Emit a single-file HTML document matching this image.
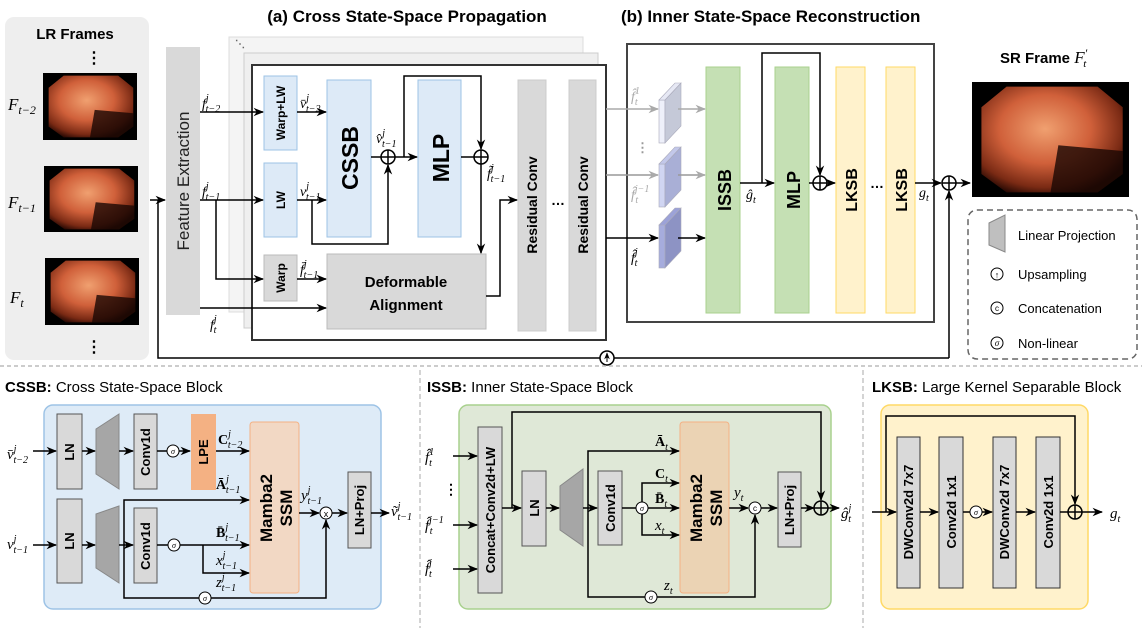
<!DOCTYPE html>
<html><head><meta charset="utf-8">
<style>
html,body{margin:0;padding:0;background:#fff;}
svg{display:block;}
.b{font-family:"Liberation Sans",sans-serif;font-weight:bold;}
.n{font-family:"Liberation Sans",sans-serif;}
.m{font-family:"Liberation Serif",serif;font-style:italic;}
</style></head><body>
<svg width="1142" height="628" viewBox="0 0 1142 628" xmlns="http://www.w3.org/2000/svg">
<defs>
<marker id="a" viewBox="0 0 10 10" refX="9" refY="5" markerWidth="7" markerHeight="7" orient="auto-start-reverse"><path d="M0,1 L10,5 L0,9 L3,5z" fill="#000"/></marker>
<marker id="g" viewBox="0 0 10 10" refX="9" refY="5" markerWidth="7" markerHeight="7" orient="auto-start-reverse"><path d="M0,1 L10,5 L0,9 L3,5z" fill="#aaa"/></marker>
<radialGradient id="en" cx="45%" cy="40%" r="65%"><stop offset="0" stop-color="#f0a070"/><stop offset="0.5" stop-color="#d0603a"/><stop offset="0.85" stop-color="#7a2a14"/><stop offset="1" stop-color="#2a0a04"/></radialGradient>
<g id="endo"><rect x="0" y="0" width="100" height="100" fill="#000"/><polygon points="22,4 80,4 96,22 96,80 80,96 22,96 6,80 6,22" fill="url(#en)"/><path d="M55,55 L96,60 L96,80 L80,96 L50,96z" fill="#1a0804" opacity="0.8"/></g>
</defs>

<!-- LR frames panel -->
<rect x="5" y="17" width="144" height="343" rx="9" fill="#eeeeee"/>
<text x="75" y="39" class="b" font-size="15" text-anchor="middle">LR Frames</text>
<text x="94" y="63" class="b" font-size="16" text-anchor="middle">⋮</text>
<text x="94" y="352" class="b" font-size="16" text-anchor="middle">⋮</text>
<use href="#endo" transform="translate(43,73) scale(0.94,0.67)"/>
<use href="#endo" transform="translate(44,166) scale(0.94,0.66)"/>
<use href="#endo" transform="translate(45,258) scale(0.94,0.67)"/>
<text x="8" y="110" class="m" font-size="17">F<tspan font-size="12" dy="4">t−2</tspan></text>
<text x="8" y="208" class="m" font-size="17">F<tspan font-size="12" dy="4">t−1</tspan></text>
<text x="10" y="303" class="m" font-size="17">F<tspan font-size="12" dy="4">t</tspan></text>

<!-- Titles -->
<text x="407" y="22" class="b" font-size="17" text-anchor="middle">(a) Cross State-Space Propagation</text>
<text x="621" y="22" class="b" font-size="17">(b) Inner State-Space Reconstruction</text>

<!-- Feature extraction -->
<rect x="166" y="47" width="34" height="268" fill="#d9d9d9"/>
<text transform="translate(189,181) rotate(-90)" class="n" font-size="17" text-anchor="middle" fill="#222">Feature Extraction</text>

<!-- stacks -->
<rect x="229" y="37" width="354" height="275" fill="#f4f4f4" stroke="#ddd"/>
<rect x="244" y="53" width="354" height="275" fill="#efefef" stroke="#ccc"/>
<rect x="252" y="65" width="354" height="275" fill="#fff" stroke="#333" stroke-width="2"/>
<text x="235" y="47" class="b" font-size="10" fill="#666">⋱</text>

<rect x="264" y="76" width="33" height="74" fill="#ddeaf7" stroke="#9dc3e6"/>
<text transform="translate(285,113) rotate(-90)" class="b" font-size="12" text-anchor="middle">Warp+LW</text>
<rect x="264" y="163" width="33" height="74" fill="#ddeaf7" stroke="#9dc3e6"/>
<text transform="translate(285,200) rotate(-90)" class="b" font-size="12" text-anchor="middle">LW</text>
<rect x="327" y="80" width="44" height="157" fill="#ddeaf7" stroke="#9dc3e6"/>
<text transform="translate(358,158) rotate(-90)" class="b" font-size="23" text-anchor="middle">CSSB</text>
<rect x="418" y="80" width="43" height="157" fill="#ddeaf7" stroke="#9dc3e6"/>
<text transform="translate(449,158) rotate(-90)" class="b" font-size="23" text-anchor="middle">MLP</text>
<rect x="264" y="255" width="33" height="46" fill="#d9d9d9" stroke="#bbb"/>
<text transform="translate(285,278) rotate(-90)" class="b" font-size="12" text-anchor="middle">Warp</text>
<rect x="327" y="254" width="159" height="75" fill="#d9d9d9" stroke="#bbb"/>
<text x="406" y="287" class="b" font-size="15" text-anchor="middle">Deformable</text>
<text x="406" y="310" class="b" font-size="15" text-anchor="middle">Alignment</text>
<rect x="518" y="80" width="28" height="251" fill="#d9d9d9" stroke="#ccc"/>
<text transform="translate(537,205) rotate(-90)" class="b" font-size="14" text-anchor="middle">Residual Conv</text>
<rect x="569" y="80" width="27" height="251" fill="#d9d9d9" stroke="#ccc"/>
<text transform="translate(588,205) rotate(-90)" class="b" font-size="14" text-anchor="middle">Residual Conv</text>
<text x="558" y="205" class="b" font-size="14" text-anchor="middle">…</text>

<g stroke="#000" stroke-width="1.5" fill="none">
<line x1="200" y1="112" x2="263" y2="112" marker-end="url(#a)"/>
<line x1="297" y1="112" x2="326" y2="112" marker-end="url(#a)"/>
<line x1="200" y1="200" x2="263" y2="200" marker-end="url(#a)"/>
<line x1="297" y1="200" x2="326" y2="200" marker-end="url(#a)"/>
<polyline points="312,200 312,244 388,244 388,165" marker-end="url(#a)"/>
<polyline points="216,200 216,279 263,279" marker-end="url(#a)"/>
<line x1="297" y1="279" x2="326" y2="279" marker-end="url(#a)"/>
<line x1="200" y1="308" x2="326" y2="308" marker-end="url(#a)"/>
<line x1="371" y1="157" x2="381" y2="157"/>
<line x1="395" y1="157" x2="417" y2="157" marker-end="url(#a)"/>
<polyline points="404,157 404,76 481,76 481,149" marker-end="url(#a)"/>
<line x1="461" y1="157" x2="474" y2="157"/>
<line x1="481" y1="164" x2="481" y2="253" marker-end="url(#a)"/>
<polyline points="486,296 500,296 500,200 517,200" marker-end="url(#a)"/>
<line x1="150" y1="200" x2="165" y2="200" marker-end="url(#a)"/>
<polyline points="158,200 158,358 600,358"/>
<line x1="614" y1="358" x2="949" y2="358"/>
<line x1="949" y1="358" x2="949" y2="191" marker-end="url(#a)"/>
<circle cx="388" cy="157" r="7"/><line x1="381" y1="157" x2="395" y2="157"/><line x1="388" y1="150" x2="388" y2="164"/>
<circle cx="481" cy="157" r="7"/><line x1="474" y1="157" x2="488" y2="157"/><line x1="481" y1="150" x2="481" y2="164"/>
<circle cx="607" cy="358" r="7" fill="#fff"/><line x1="607" y1="362" x2="607" y2="353" stroke-width="1" marker-end="url(#a)"/>
</g>
<g class="m" font-size="14">
<text x="202" y="108">f<tspan font-size="10" dy="-7">j</tspan><tspan font-size="10" dx="-3" dy="11">t−2</tspan></text>
<text x="202" y="196">f<tspan font-size="10" dy="-7">j</tspan><tspan font-size="10" dx="-3" dy="11">t−1</tspan></text>
<text x="210" y="329">f<tspan font-size="10" dy="-7">j</tspan><tspan font-size="10" dx="-3" dy="11">t</tspan></text>
<text x="300" y="108">v̄<tspan font-size="10" dy="-7">j</tspan><tspan font-size="10" dx="-3" dy="11">t−2</tspan></text>
<text x="300" y="196">v<tspan font-size="10" dy="-7">j</tspan><tspan font-size="10" dx="-3" dy="11">t−1</tspan></text>
<text x="300" y="274">f̄<tspan font-size="10" dy="-7">j</tspan><tspan font-size="10" dx="-3" dy="11">t−1</tspan></text>
<text x="376" y="143">v̂<tspan font-size="10" dy="-7">j</tspan><tspan font-size="10" dx="-3" dy="11">t−1</tspan></text>
<text x="487" y="178">f̃<tspan font-size="10" dy="-7">j</tspan><tspan font-size="10" dx="-3" dy="11">t−1</tspan></text>
</g>

<!-- section b -->
<rect x="627" y="44" width="307" height="278" fill="#fff" stroke="#444" stroke-width="2"/>
<line x1="606" y1="109" x2="658" y2="109" stroke="#aaa" stroke-width="1.5" marker-end="url(#g)"/>
<line x1="606" y1="175" x2="658" y2="175" stroke="#999" stroke-width="1.5" marker-end="url(#g)"/>
<line x1="606" y1="238" x2="658" y2="238" stroke="#000" stroke-width="1.5" marker-end="url(#a)"/>
<g stroke="#aab" stroke-width="0.6">
<rect x="659" y="100" width="6" height="43" fill="#eef0fa"/><polygon points="665,100 681,83 681,126 665,143" fill="#c5c9d8"/><polygon points="659,100 675,83 681,83 665,100" fill="#e6e8f4"/>
<rect x="659" y="164" width="6" height="43" fill="#d0d5f2"/><polygon points="665,164 681,147 681,190 665,207" fill="#a9afd6"/><polygon points="659,164 675,147 681,147 665,164" fill="#c3c8ea"/>
<rect x="659" y="225" width="6" height="43" fill="#a6acdd"/><polygon points="665,225 681,208 681,251 665,268" fill="#8d93c4"/><polygon points="659,225 675,208 681,208 665,225" fill="#9ca2d8"/>
</g>
<line x1="678" y1="109" x2="705" y2="109" stroke="#aaa" stroke-width="1.5" marker-end="url(#g)"/>
<line x1="678" y1="175" x2="705" y2="175" stroke="#999" stroke-width="1.5" marker-end="url(#g)"/>
<line x1="678" y1="238" x2="705" y2="238" stroke="#000" stroke-width="1.5" marker-end="url(#a)"/>
<g class="m" font-size="14">
<text x="631" y="101" fill="#aaa">f̂<tspan font-size="10" dy="-7">1</tspan><tspan font-size="10" dx="-5" dy="11">t</tspan></text>
<text x="636" y="152" class="b" font-style="normal" font-size="13" fill="#999">⋮</text>
<text x="631" y="199" fill="#aaa">f̂<tspan font-size="10" dy="-7">j−1</tspan><tspan font-size="10" dx="-14" dy="11">t</tspan></text>
<text x="631" y="262">f̂<tspan font-size="10" dy="-7">j</tspan><tspan font-size="10" dx="-3" dy="11">t</tspan></text>
</g>
<rect x="706" y="67" width="34" height="246" fill="#c5e0b4" stroke="#a9d18e"/>
<text transform="translate(731,190) rotate(-90)" class="b" font-size="18" text-anchor="middle">ISSB</text>
<rect x="775" y="67" width="34" height="246" fill="#c5e0b4" stroke="#a9d18e"/>
<text transform="translate(800,190) rotate(-90)" class="b" font-size="18" text-anchor="middle">MLP</text>
<rect x="836" y="67" width="29" height="246" fill="#fff2cc" stroke="#ffd966"/>
<text transform="translate(857,190) rotate(-90)" class="b" font-size="16" text-anchor="middle">LKSB</text>
<rect x="886" y="67" width="29" height="246" fill="#fff2cc" stroke="#ffd966"/>
<text transform="translate(907,190) rotate(-90)" class="b" font-size="16" text-anchor="middle">LKSB</text>
<text x="877" y="188" class="b" font-size="14" text-anchor="middle">…</text>
<g stroke="#000" stroke-width="1.5" fill="none">
<line x1="740" y1="183" x2="774" y2="183" marker-end="url(#a)"/>
<polyline points="762,183 762,53 820,53 820,175" marker-end="url(#a)"/>
<line x1="809" y1="183" x2="813" y2="183"/>
<line x1="827" y1="183" x2="835" y2="183" marker-end="url(#a)"/>
<line x1="915" y1="183" x2="941" y2="183" marker-end="url(#a)"/>
<line x1="956" y1="183" x2="970" y2="183" marker-end="url(#a)"/>
<circle cx="820" cy="183" r="7"/><line x1="813" y1="183" x2="827" y2="183"/><line x1="820" y1="176" x2="820" y2="190"/>
<circle cx="949" cy="183" r="7"/><line x1="942" y1="183" x2="956" y2="183"/><line x1="949" y1="176" x2="949" y2="190"/>
</g>
<text x="746" y="199" class="m" font-size="14">ĝ<tspan font-size="10" dy="4">t</tspan></text>
<text x="919" y="197" class="m" font-size="14">g<tspan font-size="10" dy="4">t</tspan></text>

<text x="1000" y="63" class="b" font-size="15">SR Frame <tspan class="m" font-weight="normal" font-size="17">F</tspan><tspan class="m" font-weight="normal" font-size="12" dy="-6">′</tspan><tspan class="m" font-weight="normal" font-size="11" dx="-4" dy="10">t</tspan></text>
<use href="#endo" transform="translate(972,82) scale(1.57,1.15)"/>

<!-- legend -->
<rect x="968" y="210" width="169" height="149" rx="9" fill="#fff" stroke="#666" stroke-width="1.5" stroke-dasharray="6,4"/>
<polygon points="989,223 1005,215 1005,252 989,245" fill="#bfbfbf" stroke="#888"/>
<text x="1018" y="240" class="n" font-size="13">Linear Projection</text>
<circle cx="997" cy="274" r="6" fill="#fff" stroke="#000"/><text x="997" y="278" class="n" font-size="9" text-anchor="middle">↑</text>
<text x="1018" y="279" class="n" font-size="13">Upsampling</text>
<circle cx="997" cy="308" r="6" fill="#fff" stroke="#000"/><text x="997" y="311" class="n" font-size="8" text-anchor="middle">c</text>
<text x="1018" y="313" class="n" font-size="13">Concatenation</text>
<circle cx="997" cy="343" r="6" fill="#fff" stroke="#000"/><text x="997" y="346" class="m" font-size="9" text-anchor="middle">σ</text>
<text x="1018" y="348" class="n" font-size="13">Non-linear</text>

<!-- separators -->
<line x1="0" y1="366" x2="1142" y2="366" stroke="#bbb" stroke-width="1.5" stroke-dasharray="4,3"/>
<line x1="420" y1="370" x2="420" y2="628" stroke="#aaa" stroke-width="1" stroke-dasharray="5,3"/>
<line x1="863" y1="370" x2="863" y2="628" stroke="#aaa" stroke-width="1" stroke-dasharray="5,3"/>

<!-- CSSB -->
<text x="5" y="392" class="n" font-size="15"><tspan font-weight="bold">CSSB:</tspan> Cross State-Space Block</text>
<rect x="44" y="405" width="337" height="204" rx="9" fill="#deebf7" stroke="#9dc3e6" stroke-width="1.5"/>
<g fill="#d9d9d9" stroke="#555" stroke-width="1">
<rect x="57" y="414" width="25" height="75"/><rect x="57" y="499" width="25" height="84"/>
<rect x="134" y="414" width="23" height="75"/><rect x="134" y="508" width="23" height="75"/>
<rect x="348" y="472" width="23" height="76"/>
</g>
<polygon points="96,429 119,414 119,489 96,474" fill="#a6a6a6" stroke="#888"/>
<polygon points="96,514 119,506 119,583 96,568" fill="#a6a6a6" stroke="#888"/>
<rect x="191" y="414" width="25" height="76" fill="#f4b183"/>
<rect x="250" y="422" width="49" height="171" rx="3" fill="#f2d8c4" stroke="#f4b183"/>
<g class="b" font-size="13" text-anchor="middle">
<text transform="translate(74,452) rotate(-90)">LN</text>
<text transform="translate(74,541) rotate(-90)">LN</text>
<text transform="translate(150,452) rotate(-90)">Conv1d</text>
<text transform="translate(150,546) rotate(-90)">Conv1d</text>
<text transform="translate(208,452) rotate(-90)">LPE</text>
<text transform="translate(364,510) rotate(-90)">LN+Proj</text>
<text transform="translate(272,508) rotate(-90)" font-size="17">Mamba2</text>
<text transform="translate(292,508) rotate(-90)" font-size="17">SSM</text>
</g>
<g stroke="#000" stroke-width="1.5" fill="none">
<line x1="33" y1="451" x2="56" y2="451" marker-end="url(#a)"/>
<line x1="82" y1="451" x2="95" y2="451" marker-end="url(#a)"/>
<line x1="119" y1="451" x2="133" y2="451" marker-end="url(#a)"/>
<line x1="157" y1="451" x2="167" y2="451"/>
<line x1="179" y1="451" x2="190" y2="451" marker-end="url(#a)"/>
<line x1="216" y1="451" x2="249" y2="451" marker-end="url(#a)"/>
<line x1="33" y1="545" x2="56" y2="545" marker-end="url(#a)"/>
<line x1="82" y1="545" x2="95" y2="545" marker-end="url(#a)"/>
<line x1="119" y1="545" x2="133" y2="545" marker-end="url(#a)"/>
<polyline points="124,545 124,500 249,500" marker-end="url(#a)"/>
<polyline points="124,545 124,598 326,598 326,520" marker-end="url(#a)"/>
<line x1="157" y1="545" x2="168" y2="545"/>
<line x1="180" y1="545" x2="249" y2="545" marker-end="url(#a)"/>
<polyline points="203,545 203,573 249,573" marker-end="url(#a)"/>
<line x1="299" y1="513" x2="319" y2="513" marker-end="url(#a)"/>
<line x1="332" y1="513" x2="347" y2="513" marker-end="url(#a)"/>
<line x1="371" y1="513" x2="389" y2="513" marker-end="url(#a)"/>
</g>
<g fill="#fff" stroke="#000" stroke-width="1">
<circle cx="173" cy="451" r="6"/><circle cx="174" cy="545" r="6"/><circle cx="205" cy="598" r="6"/><circle cx="326" cy="513" r="6"/>
</g>
<g class="m" font-size="8" text-anchor="middle"><text x="173" y="454">σ</text><text x="174" y="548">σ</text><text x="205" y="601">σ</text></g>
<text x="326" y="517" class="n" font-size="9" text-anchor="middle">x</text>
<g class="m" font-size="15">
<text x="7" y="459">v̄<tspan font-size="10" dy="-7">j</tspan><tspan font-size="10" dx="-3" dy="11">t−2</tspan></text>
<text x="7" y="549">v<tspan font-size="10" dy="-7">j</tspan><tspan font-size="10" dx="-3" dy="11">t−1</tspan></text>
<text x="218" y="444" font-style="normal" font-weight="bold" font-size="14">C<tspan font-size="10" font-style="italic" font-weight="normal" dy="-7">j</tspan><tspan font-size="10" font-style="italic" font-weight="normal" dx="-3" dy="11">t−2</tspan></text>
<text x="216" y="489" font-style="normal" font-weight="bold" font-size="14">Ā<tspan font-size="10" font-style="italic" font-weight="normal" dy="-7">j</tspan><tspan font-size="10" font-style="italic" font-weight="normal" dx="-3" dy="11">t−1</tspan></text>
<text x="216" y="537" font-style="normal" font-weight="bold" font-size="14">B̄<tspan font-size="10" font-style="italic" font-weight="normal" dy="-7">j</tspan><tspan font-size="10" font-style="italic" font-weight="normal" dx="-3" dy="11">t−1</tspan></text>
<text x="216" y="565">x<tspan font-size="10" dy="-7">j</tspan><tspan font-size="10" dx="-3" dy="11">t−1</tspan></text>
<text x="216" y="587">z<tspan font-size="10" dy="-7">j</tspan><tspan font-size="10" dx="-3" dy="11">t−1</tspan></text>
<text x="301" y="500">y<tspan font-size="10" dy="-7">j</tspan><tspan font-size="10" dx="-3" dy="11">t−1</tspan></text>
<text x="391" y="516">ṽ<tspan font-size="10" dy="-7">j</tspan><tspan font-size="10" dx="-3" dy="11">t−1</tspan></text>
</g>

<!-- ISSB -->
<text x="427" y="392" class="n" font-size="15"><tspan font-weight="bold">ISSB:</tspan> Inner State-Space Block</text>
<rect x="459" y="405" width="372" height="204" rx="9" fill="#dfe8d7" stroke="#a9d18e" stroke-width="1.5"/>
<g fill="#d9d9d9" stroke="#555" stroke-width="1">
<rect x="478" y="427" width="24" height="166"/>
<rect x="522" y="471" width="24" height="75"/>
<rect x="598" y="471" width="24" height="74"/>
<rect x="778" y="472" width="23" height="75"/>
</g>
<polygon points="560,486 583,469 583,546 560,530" fill="#a6a6a6" stroke="#888"/>
<rect x="680" y="422" width="49" height="171" rx="3" fill="#ebd3b4" stroke="#f4b183"/>
<g class="b" font-size="13" text-anchor="middle">
<text transform="translate(495,510) rotate(-90)">Concat+Conv2d+LW</text>
<text transform="translate(539,508) rotate(-90)">LN</text>
<text transform="translate(615,508) rotate(-90)">Conv1d</text>
<text transform="translate(794,510) rotate(-90)">LN+Proj</text>
<text transform="translate(702,508) rotate(-90)" font-size="17">Mamba2</text>
<text transform="translate(722,508) rotate(-90)" font-size="17">SSM</text>
</g>
<g stroke="#000" stroke-width="1.5" fill="none">
<line x1="453" y1="456" x2="477" y2="456" marker-end="url(#a)"/>
<line x1="453" y1="525" x2="477" y2="525" marker-end="url(#a)"/>
<line x1="453" y1="569" x2="477" y2="569" marker-end="url(#a)"/>
<line x1="502" y1="508" x2="521" y2="508" marker-end="url(#a)"/>
<polyline points="512,508 512,412 821,412 821,500" marker-end="url(#a)"/>
<line x1="546" y1="508" x2="559" y2="508" marker-end="url(#a)"/>
<line x1="583" y1="508" x2="597" y2="508" marker-end="url(#a)"/>
<polyline points="588,508 588,451 679,451" marker-end="url(#a)"/>
<polyline points="588,508 588,597 645,597"/>
<polyline points="657,597 755,597 755,515" marker-end="url(#a)"/>
<line x1="622" y1="508" x2="636" y2="508"/>
<line x1="648" y1="508" x2="679" y2="508" marker-end="url(#a)"/>
<polyline points="642,502 642,483 679,483" marker-end="url(#a)"/>
<polyline points="642,514 642,535 679,535" marker-end="url(#a)"/>
<line x1="729" y1="508" x2="748" y2="508" marker-end="url(#a)"/>
<line x1="761" y1="508" x2="777" y2="508" marker-end="url(#a)"/>
<line x1="801" y1="508" x2="814" y2="508" marker-end="url(#a)"/>
<line x1="828" y1="508" x2="839" y2="508" marker-end="url(#a)"/>
<circle cx="821" cy="508" r="7"/><line x1="814" y1="508" x2="828" y2="508"/><line x1="821" y1="501" x2="821" y2="515"/>
</g>
<g fill="#fff" stroke="#000" stroke-width="1">
<circle cx="642" cy="508" r="6"/><circle cx="651" cy="597" r="6"/><circle cx="755" cy="508" r="6"/>
</g>
<g class="m" font-size="8" text-anchor="middle"><text x="642" y="511">σ</text><text x="651" y="600">σ</text></g>
<text x="755" y="511" class="n" font-size="8" text-anchor="middle">c</text>
<g class="m" font-size="15">
<text x="425" y="462">f̂<tspan font-size="10" dy="-7">1</tspan><tspan font-size="10" dx="-5" dy="11">t</tspan></text>
<text x="444" y="494" class="b" font-style="normal" font-size="14">⋮</text>
<text x="425" y="530">f̂<tspan font-size="10" dy="-7">j−1</tspan><tspan font-size="10" dx="-14" dy="11">t</tspan></text>
<text x="425" y="573">f̂<tspan font-size="10" dy="-7">j</tspan><tspan font-size="10" dx="-3" dy="11">t</tspan></text>
<text x="655" y="446" font-style="normal" font-weight="bold" font-size="14">Ā<tspan font-size="10" font-style="italic" font-weight="normal" dy="4">t</tspan></text>
<text x="655" y="478" font-style="normal" font-weight="bold" font-size="14">C<tspan font-size="10" font-style="italic" font-weight="normal" dy="4">t</tspan></text>
<text x="655" y="503" font-style="normal" font-weight="bold" font-size="14">B̄<tspan font-size="10" font-style="italic" font-weight="normal" dy="4">t</tspan></text>
<text x="655" y="530">x<tspan font-size="10" dy="4">t</tspan></text>
<text x="664" y="590">z<tspan font-size="10" dy="4">t</tspan></text>
<text x="734" y="497">y<tspan font-size="10" dy="4">t</tspan></text>
<text x="841" y="518">ĝ<tspan font-size="10" dy="-7">j</tspan><tspan font-size="10" dx="-3" dy="11">t</tspan></text>
</g>

<!-- LKSB -->
<text x="872" y="392" class="n" font-size="15"><tspan font-weight="bold">LKSB:</tspan> Large Kernel Separable Block</text>
<rect x="881" y="405" width="207" height="204" rx="9" fill="#fff2cc" stroke="#ffd966" stroke-width="1.5"/>
<g fill="#d9d9d9" stroke="#333" stroke-width="1">
<rect x="897" y="437" width="23" height="151"/><rect x="939" y="437" width="24" height="151"/>
<rect x="993" y="437" width="23" height="151"/><rect x="1036" y="437" width="24" height="151"/>
</g>
<g class="b" font-size="13" text-anchor="middle">
<text transform="translate(913,512) rotate(-90)">DWConv2d 7x7</text>
<text transform="translate(956,512) rotate(-90)">Conv2d 1x1</text>
<text transform="translate(1009,512) rotate(-90)">DWConv2d 7x7</text>
<text transform="translate(1053,512) rotate(-90)">Conv2d 1x1</text>
</g>
<g stroke="#000" stroke-width="1.5" fill="none">
<line x1="872" y1="512" x2="896" y2="512" marker-end="url(#a)"/>
<polyline points="886,512 886,416 1075,416 1075,504" marker-end="url(#a)"/>
<line x1="920" y1="512" x2="938" y2="512" marker-end="url(#a)"/>
<line x1="963" y1="512" x2="970" y2="512"/>
<line x1="982" y1="512" x2="992" y2="512" marker-end="url(#a)"/>
<line x1="1016" y1="512" x2="1035" y2="512" marker-end="url(#a)"/>
<line x1="1060" y1="512" x2="1068" y2="512"/>
<line x1="1082" y1="512" x2="1102" y2="512" marker-end="url(#a)"/>
<circle cx="1075" cy="512" r="7"/><line x1="1068" y1="512" x2="1082" y2="512"/><line x1="1075" y1="505" x2="1075" y2="519"/>
</g>
<circle cx="976" cy="512" r="6" fill="#fff" stroke="#000"/><text x="976" y="515" class="m" font-size="8" text-anchor="middle">σ</text>
<text x="1110" y="518" class="m" font-size="15">g<tspan font-size="10" dy="4">t</tspan></text>
</svg>
</body></html>
